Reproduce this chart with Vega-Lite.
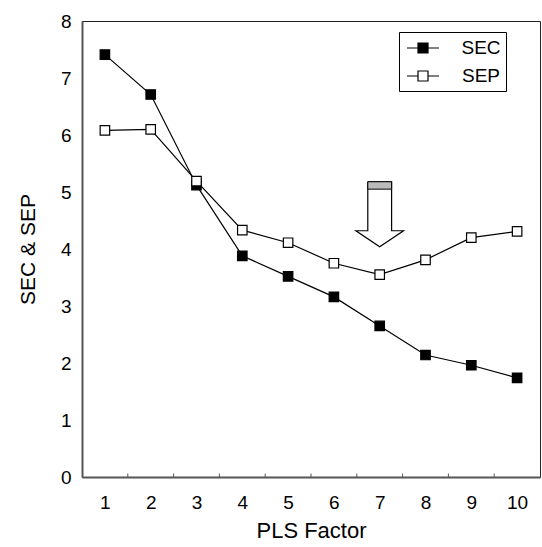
{
  "$schema": "https://vega.github.io/schema/vega-lite/v6.json",
  "width": 458,
  "height": 456,
  "autosize": {"type": "none"},
  "padding": {"left": 82, "top": 21, "right": 2, "bottom": 70},
  "background": "white",
  "config": {
    "font": "Liberation Sans",
    "view": {"stroke": "#222222", "strokeWidth": 1},
    "axis": {"domainColor": "#555555", "domainWidth": 2, "tickColor": "black", "labelColor": "black", "titleColor": "black", "grid": false, "labelFont": "Liberation Sans", "titleFont": "Liberation Sans", "labelFontSize": 19, "titleFontSize": 22, "titleFontWeight": "normal"}
  },
  "datasets": {
    "main": [
      {"factor": 1, "series": "SEC", "value": 7.41},
      {"factor": 2, "series": "SEC", "value": 6.71},
      {"factor": 3, "series": "SEC", "value": 5.12},
      {"factor": 4, "series": "SEC", "value": 3.88},
      {"factor": 5, "series": "SEC", "value": 3.52},
      {"factor": 6, "series": "SEC", "value": 3.16},
      {"factor": 7, "series": "SEC", "value": 2.65},
      {"factor": 8, "series": "SEC", "value": 2.14},
      {"factor": 9, "series": "SEC", "value": 1.96},
      {"factor": 10, "series": "SEC", "value": 1.74},
      {"factor": 1, "series": "SEP", "value": 6.08},
      {"factor": 2, "series": "SEP", "value": 6.1},
      {"factor": 3, "series": "SEP", "value": 5.19},
      {"factor": 4, "series": "SEP", "value": 4.33},
      {"factor": 5, "series": "SEP", "value": 4.11},
      {"factor": 6, "series": "SEP", "value": 3.75},
      {"factor": 7, "series": "SEP", "value": 3.55},
      {"factor": 8, "series": "SEP", "value": 3.81},
      {"factor": 9, "series": "SEP", "value": 4.2},
      {"factor": 10, "series": "SEP", "value": 4.31}
    ],
    "arrow": [
      {"ord": 1, "ax": 6.74, "ay": 5.18},
      {"ord": 2, "ax": 6.74, "ay": 4.32},
      {"ord": 3, "ax": 6.48, "ay": 4.32},
      {"ord": 4, "ax": 7.0, "ay": 4.04},
      {"ord": 5, "ax": 7.52, "ay": 4.32},
      {"ord": 6, "ax": 7.26, "ay": 4.32},
      {"ord": 7, "ax": 7.26, "ay": 5.18},
      {"ord": 8, "ax": 6.74, "ay": 5.18}
    ],
    "band": [
      {"x1": 6.74, "x2": 7.26, "y1": 5.05, "y2": 5.18}
    ],
    "bounds": [
      {"b": 1.5}, {"b": 2.5}, {"b": 3.5}, {"b": 4.5}, {"b": 5.5},
      {"b": 6.5}, {"b": 7.5}, {"b": 8.5}, {"b": 9.5}
    ]
  },
  "layer": [
    {
      "data": {"name": "main"},
      "mark": {"type": "line", "color": "black", "strokeWidth": 1.2},
      "encoding": {
        "x": {"field": "factor", "type": "quantitative", "scale": {"domain": [0.5, 10.5], "nice": false, "zero": false},
              "axis": {"values": [1,2,3,4,5,6,7,8,9,10], "ticks": false, "labelPadding": 16, "title": "PLS Factor", "titlePadding": 8}},
        "y": {"field": "value", "type": "quantitative", "scale": {"domain": [0, 8], "nice": false},
              "axis": {"values": [0,1,2,3,4,5,6,7,8], "format": "d", "ticks": false, "labelPadding": 11, "title": "SEC & SEP", "titleFontSize": 21, "titlePadding": 22}},
        "detail": {"field": "series"}
      }
    },
    {
      "data": {"name": "main"},
      "mark": {"type": "point", "shape": "square", "size": 90, "stroke": "black", "strokeWidth": 1.2, "opacity": 1},
      "encoding": {
        "x": {"field": "factor", "type": "quantitative"},
        "y": {"field": "value", "type": "quantitative"},
        "fill": {"field": "series", "type": "nominal", "scale": {"domain": ["SEC", "SEP"], "range": ["black", "white"]},
          "legend": {"title": null, "orient": "none", "legendX": 317, "legendY": 11, "direction": "vertical",
            "symbolType": "M-0.8,0H0.3M1.3,0H2.4M0.3,-0.5H1.3V0.5H0.3Z",
            "symbolSize": 400, "symbolStrokeColor": "black", "symbolStrokeWidth": 1.2,
            "labelFontSize": 19, "labelFont": "Liberation Sans", "labelColor": "black", "labelOffset": 55, "labelAlign": "center",
            "rowPadding": 7, "padding": 5, "strokeColor": "black", "fillColor": "white", "symbolOffset": 0}}
      }
    },
    {
      "data": {"name": "arrow"},
      "mark": {"type": "line", "color": "black", "strokeWidth": 1.2},
      "encoding": {
        "x": {"field": "ax", "type": "quantitative"},
        "y": {"field": "ay", "type": "quantitative"},
        "order": {"field": "ord"}
      }
    },
    {
      "data": {"name": "band"},
      "mark": {"type": "rect", "fill": "#bbbbbb", "stroke": "black", "strokeWidth": 1},
      "encoding": {
        "x": {"field": "x1", "type": "quantitative"},
        "x2": {"field": "x2"},
        "y": {"field": "y1", "type": "quantitative"},
        "y2": {"field": "y2"}
      }
    },
    {
      "data": {"name": "bounds"},
      "mark": {"type": "rule", "color": "#555555", "strokeWidth": 1},
      "encoding": {
        "x": {"field": "b", "type": "quantitative"},
        "y": {"datum": 0},
        "y2": {"datum": 0.06}
      }
    }
  ]
}
